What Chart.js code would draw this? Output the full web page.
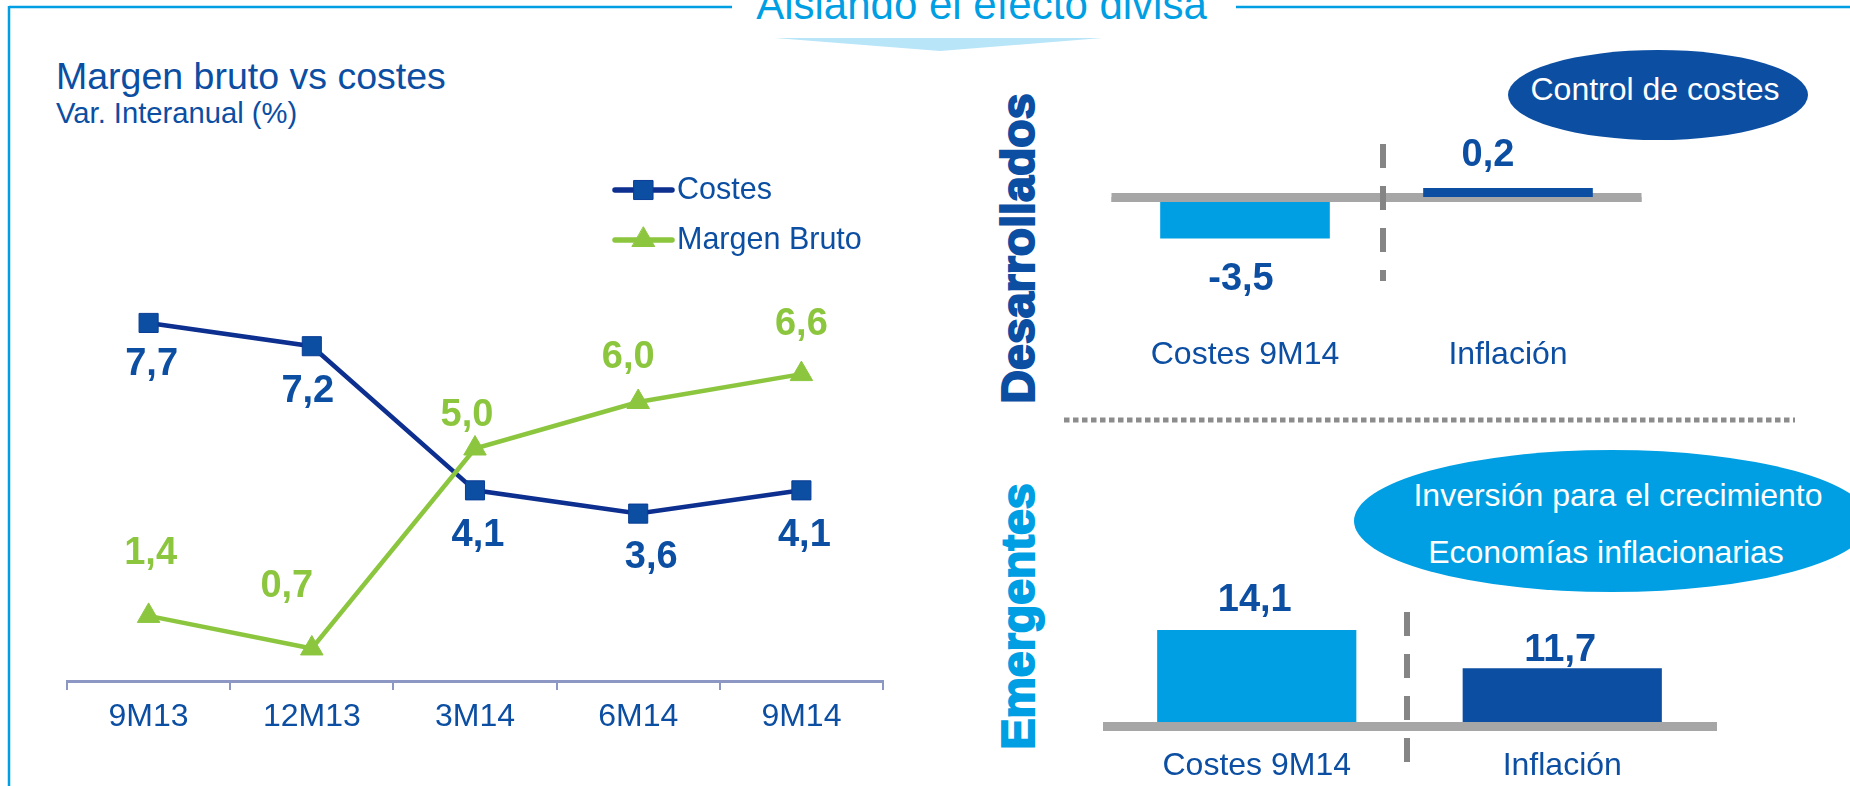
<!DOCTYPE html>
<html>
<head>
<meta charset="utf-8">
<script src="https://cdn.jsdelivr.net/npm/chart.js@4.4.1/dist/chart.umd.min.js"></script>
<style>
html,body{margin:0;padding:0;background:#fff;width:1850px;height:786px;overflow:hidden}
#wrap{position:relative;width:1850px;height:786px}
svg,canvas{position:absolute;left:0;top:0}
svg{font-family:'Liberation Sans',Arial,sans-serif}
</style>
</head>
<body>
<div id="wrap">
<svg id="deco" width="1850" height="786" xmlns="http://www.w3.org/2000/svg">
  <line x1="9" y1="7" x2="732" y2="7" stroke="#009fe3" stroke-width="2.5"/>
  <line x1="1236" y1="7" x2="1850" y2="7" stroke="#009fe3" stroke-width="2.5"/>
  <line x1="9" y1="6" x2="9" y2="786" stroke="#009fe3" stroke-width="2.5"/>
  <polygon points="775,38 1102,38 940,51" fill="#b9e5f8"/>
  <text x="981.5" y="19" text-anchor="middle" font-size="42" fill="#009fe3">Aislando el efecto divisa</text>
  <text x="56" y="89" font-size="37.5" fill="#0b4ea2">Margen bruto vs costes</text>
  <text x="56" y="123" font-size="29.2" fill="#0b4ea2">Var. Interanual (%)</text>
  <text transform="translate(1034,248.5) rotate(-90)" text-anchor="middle" font-weight="bold" font-size="46.5" fill="#0b4ea2" stroke="#0b4ea2" stroke-width="2">Desarrollados</text>
  <text transform="translate(1034,616.5) rotate(-90)" text-anchor="middle" font-weight="bold" font-size="46.5" fill="#009fe3" stroke="#009fe3" stroke-width="2">Emergentes</text>
  <line x1="1064" y1="420" x2="1795" y2="420" stroke="#8c8c8c" stroke-width="5" stroke-dasharray="5.5 3.5"/>
  <ellipse cx="1658" cy="95" rx="150" ry="45" fill="#0b4ea2"/>
  <text x="1655" y="99.5" text-anchor="middle" font-size="32" fill="#ffffff">Control de costes</text>
  <ellipse cx="1612" cy="521" rx="258" ry="71" fill="#009fe3"/>
  <text x="1618" y="505.5" text-anchor="middle" font-size="32" fill="#ffffff">Inversión para el crecimiento</text>
  <text x="1606" y="562.5" text-anchor="middle" font-size="32" fill="#ffffff">Economías inflacionarias</text>
</svg>
<canvas id="lineChart" width="1850" height="786"></canvas>
<canvas id="devChart" width="1850" height="786"></canvas>
<canvas id="emChart" width="1850" height="786"></canvas>
</div>
<script>
// ---- data ----
const periods = ['9M13', '12M13', '3M14', '6M14', '9M14'];
const costes = [7.7, 7.2, 4.1, 3.6, 4.1];
const margenBruto = [1.4, 0.7, 5.0, 6.0, 6.6];
const barCategories = ['Costes 9M14', 'Inflación'];
const desarrollados = [-3.5, 0.2];
const emergentes = [14.1, 11.7];

// ---- style ----
const FONT = "'Liberation Sans', Arial, sans-serif";
const DARK = '#0b4ea2';
const NAVY = '#0d2f8f';
const GREEN = '#8cc63f';
const CYAN = '#009fe3';
const GRAY = '#a6a6a6';
const DASH = '#858585';
const AXIS = '#8c97c4';

const costesLabelOffsets = [[3, 41.5], [-4, 45.5], [3, 45.5], [13, 44], [3, 45.5]];
const margenLabelOffsets = [[2, -62], [-25, -62], [-8, -33], [-10, -44], [0, -50]];
const devLabelOffsets = [[-4, 41], [-20, -32]];
const emLabelOffsets = [[-2, -30], [-2, -18]];

const fmt = v => v.toFixed(1).replace('.', ',');

const valueLabels = {
  id: 'valueLabels',
  afterDatasetsDraw(chart) {
    const ctx = chart.ctx;
    chart.data.datasets.forEach((ds, di) => {
      const st = ds.labelStyle;
      if (!st) return;
      const meta = chart.getDatasetMeta(di);
      meta.data.forEach((el, i) => {
        const off = st.offsets[i] || [0, 0];
        ctx.save();
        ctx.font = 'bold ' + st.size + 'px ' + FONT;
        ctx.fillStyle = st.color;
        ctx.textAlign = 'center';
        ctx.textBaseline = 'middle';
        ctx.fillText(fmt(ds.data[i]), el.x + off[0], el.y + off[1]);
        ctx.restore();
      });
    });
  }
};

const manualLegend = {
  id: 'manualLegend',
  afterDraw(chart, args, opts) {
    const ctx = chart.ctx;
    chart.data.datasets.forEach((ds, i) => {
      const y = opts.y + i * opts.gap;
      ctx.save();
      ctx.strokeStyle = ds.borderColor;
      ctx.lineWidth = opts.lineWidth;
      ctx.lineCap = 'round';
      ctx.beginPath();
      ctx.moveTo(opts.x, y);
      ctx.lineTo(opts.x + opts.len, y);
      ctx.stroke();
      ctx.fillStyle = ds.pointBackgroundColor;
      ctx.strokeStyle = ds.pointBorderColor;
      ctx.lineWidth = ds.pointBorderWidth;
      Chart.helpers.drawPoint(ctx, {pointStyle: ds.pointStyle, radius: ds.pointRadius, borderWidth: ds.pointBorderWidth, rotation: 0}, opts.x + opts.len / 2, y);
      ctx.font = opts.size + 'px ' + FONT;
      ctx.fillStyle = DARK;
      ctx.textAlign = 'left';
      ctx.textBaseline = 'middle';
      ctx.fillText(ds.label, opts.x + opts.len + 5, y + 1);
      ctx.restore();
    });
  }
};

// ---- line chart ----
new Chart(document.getElementById('lineChart'), {
  type: 'line',
  data: {
    labels: periods,
    datasets: [
      {
        label: 'Costes', data: costes, order: 2,
        borderColor: NAVY, borderWidth: 4.5,
        pointStyle: 'rect', pointRadius: 13.5,
        pointBackgroundColor: DARK, pointBorderColor: '#0a3d96', pointBorderWidth: 1,
        labelStyle: {color: DARK, size: 38, offsets: costesLabelOffsets}
      },
      {
        label: 'Margen Bruto', data: margenBruto, order: 1,
        borderColor: GREEN, borderWidth: 4.5,
        pointStyle: 'triangle', pointRadius: 13,
        pointBackgroundColor: GREEN, pointBorderColor: GREEN, pointBorderWidth: 1,
        labelStyle: {color: GREEN, size: 38, offsets: margenLabelOffsets}
      }
    ]
  },
  options: {
    responsive: false, animation: false, devicePixelRatio: 1,
    layout: {padding: {left: 67, right: 967, top: 216, bottom: 0}},
    plugins: {
      legend: {display: false}, tooltip: {enabled: false},
      manualLegend: {x: 615, y: 190, gap: 50, len: 57, lineWidth: 5.5, size: 30.5}
    },
    scales: {
      x: {
        offset: true,
        grid: {offset: true, drawOnChartArea: false, drawTicks: true, tickLength: 9, color: AXIS, lineWidth: 2},
        border: {display: true, color: AXIS, width: 3},
        ticks: {color: DARK, font: {family: FONT, size: 32}, padding: 8, maxRotation: 0, autoSkip: false},
        afterFit: s => { s.height = 105; }
      },
      y: {display: false, min: 0, max: 10}
    }
  },
  plugins: [valueLabels, manualLegend]
});

// ---- Desarrollados bar chart ----
new Chart(document.getElementById('devChart'), {
  type: 'bar',
  data: {
    labels: barCategories,
    datasets: [{
      data: desarrollados,
      backgroundColor: [CYAN, DARK],
      barPercentage: 0.645, categoryPercentage: 1, minBarLength: 14,
      labelStyle: {color: DARK, size: 38, offsets: devLabelOffsets}
    }]
  },
  options: {
    responsive: false, animation: false, devicePixelRatio: 1,
    layout: {padding: {left: 1113.5, right: 210.5, top: 150, bottom: 0}},
    plugins: {legend: {display: false}, tooltip: {enabled: false}},
    scales: {
      x: {
        grid: {display: false, drawTicks: false}, border: {display: false},
        ticks: {color: DARK, font: {family: FONT, size: 32}, padding: 82, maxRotation: 0},
        afterFit: s => { s.height = 532; }
      },
      y: {display: false, min: -5, max: 5}
    }
  },
  plugins: [{
    id: 'devDecor',
    beforeDatasetsDraw(chart) {
      const {ctx, chartArea: a, scales: {y}} = chart;
      const z = y.getPixelForValue(0);
      ctx.save(); ctx.fillStyle = GRAY;
      ctx.fillRect(a.left - 2, z - 9, a.right - a.left + 4, 9);
      ctx.restore();
    },
    afterDatasetsDraw(chart) {
      const {ctx, chartArea: a, scales: {y}} = chart;
      const z = y.getPixelForValue(0);
      ctx.save(); ctx.fillStyle = GRAY;
      ctx.fillRect(a.left - 2, z - 5, a.right - a.left + 4, 5);
      ctx.strokeStyle = DASH; ctx.lineWidth = 6; ctx.setLineDash([24, 18]);
      ctx.beginPath(); ctx.moveTo(1383, 144); ctx.lineTo(1383, 281); ctx.stroke();
      ctx.restore();
    }
  }, valueLabels]
});

// ---- Emergentes bar chart ----
new Chart(document.getElementById('emChart'), {
  type: 'bar',
  data: {
    labels: barCategories,
    datasets: [{
      data: emergentes,
      backgroundColor: [CYAN, DARK],
      barPercentage: 0.652, categoryPercentage: 1,
      labelStyle: {color: DARK, size: 38, offsets: emLabelOffsets}
    }]
  },
  options: {
    responsive: false, animation: false, devicePixelRatio: 1,
    layout: {padding: {left: 1104, right: 135, top: 562, bottom: 0}},
    plugins: {legend: {display: false}, tooltip: {enabled: false}},
    scales: {
      x: {
        grid: {display: false, drawTicks: false}, border: {display: false},
        ticks: {color: DARK, font: {family: FONT, size: 32}, padding: 25, maxRotation: 0},
        afterFit: s => { s.height = 64; }
      },
      y: {display: false, min: 8.3, max: 18.4}
    }
  },
  plugins: [{
    id: 'emDecor',
    beforeDatasetsDraw(chart) {
      const {ctx, chartArea: a} = chart;
      ctx.save(); ctx.fillStyle = GRAY;
      ctx.fillRect(a.left - 1, a.bottom, a.right - a.left + 3, 9);
      ctx.restore();
    },
    afterDatasetsDraw(chart) {
      const ctx = chart.ctx;
      ctx.save();
      ctx.strokeStyle = DASH; ctx.lineWidth = 6; ctx.setLineDash([24, 18]);
      ctx.beginPath(); ctx.moveTo(1407, 612); ctx.lineTo(1407, 762); ctx.stroke();
      ctx.restore();
    }
  }, valueLabels]
});
</script>
</body>
</html>
